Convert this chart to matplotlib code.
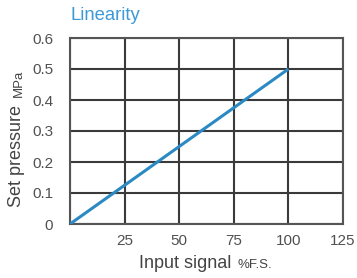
import numpy as np
import matplotlib.pyplot as plt

# data
signal = [0, 100]          # input signal, %F.S.
pressure = [0.0, 0.5]      # set pressure, MPa
xticks = [25, 50, 75, 100, 125]
yticks = [0, 0.1, 0.2, 0.3, 0.4, 0.5, 0.6]
ytick_labels = ['0', '0.1', '0.2', '0.3', '0.4', '0.5', '0.6']

plt.rcParams['font.family'] = ['Liberation Sans', 'DejaVu Sans']

fig = plt.figure(figsize=(3.57, 2.78), dpi=100)
ax = fig.add_axes([70/357, 1 - 224/278, (343 - 70)/357, (224 - 38)/278])

ax.plot(signal, pressure, color='#2b8ac3', lw=2.2, solid_capstyle='butt', zorder=3)

ax.set_xlim(0, 125)
ax.set_ylim(0, 0.6)
ax.set_xticks([0] + xticks)
ax.set_xticklabels([''] + [str(t) for t in xticks])
ax.set_yticks(yticks)
ax.set_yticklabels(ytick_labels)
ax.tick_params(length=0, labelsize=11, colors='#505050')
ax.tick_params(axis='y', pad=12)
ax.tick_params(axis='x', pad=7)
ax.grid(True, color='#3a3a3a', lw=1.5)
ax.set_axisbelow(True)
for s in ax.spines.values():
    s.set_color('#555555')
    s.set_linewidth(1.5)

# title
fig.text(71/357, 1 - 15/278, 'Linearity', color='#3d9ad6', fontsize=13.3,
         ha='left', va='center')

# x label: big part + small unit
fig.text(231/357, 1 - 268/278, 'Input signal', fontsize=13, color='#444444',
         ha='right', va='baseline')
fig.text(237/357, 1 - 268/278, '%F.S.', fontsize=9.5, color='#444444',
         ha='left', va='baseline')

# y label: big part + small unit
fig.text(25/357, 1 - 207/278, 'Set pressure', fontsize=13, color='#444444',
         rotation=90, ha='right', va='bottom')
fig.text(25/357, 1 - 97/278, 'MPa', fontsize=9.5, color='#444444',
         rotation=90, ha='right', va='bottom')

fig.savefig('out.png', dpi=100)
